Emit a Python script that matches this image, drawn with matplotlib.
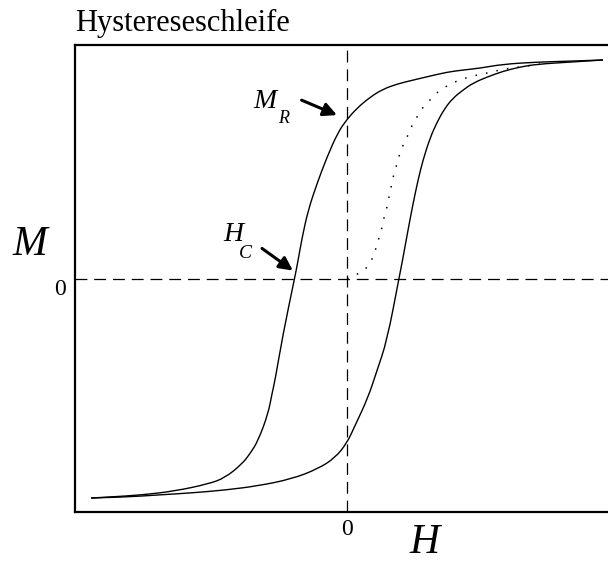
import matplotlib

matplotlib.use("Agg")

import matplotlib.pyplot as plt
import matplotlib.transforms as mtransforms
from matplotlib.path import Path
from matplotlib.patches import PathPatch


# descending branch, from positive saturation down to negative saturation
h_down = [0.941, 0.820, 0.699, 0.574, 0.489, 0.426, 0.368, 0.305, 0.243, 0.184,
          0.132, 0.085, 0.037, 0.000, -0.033, -0.074, -0.110, -0.143, -0.165,
          -0.182, -0.193, -0.235, -0.265, -0.276, -0.290, -0.327, -0.357, -0.386,
          -0.449, -0.511, -0.632, -0.754, -0.879, -0.941]
m_down = [0.936, 0.931, 0.927, 0.918, 0.901, 0.893, 0.884, 0.867, 0.850, 0.833,
          0.811, 0.777, 0.730, 0.682, 0.627, 0.519, 0.408, 0.292, 0.176,
          0.064, 0.000, -0.236, -0.438, -0.494, -0.579, -0.695, -0.751, -0.794,
          -0.854, -0.880, -0.910, -0.927, -0.936, -0.940]

# ascending branch, from negative saturation back up
h_up = [-0.941, -0.816, -0.695, -0.570, -0.449, -0.327, -0.202, -0.107, -0.044,
        0.000, 0.029, 0.077, 0.110, 0.147, 0.191, 0.206, 0.224, 0.243, 0.261, 0.279,
        0.305, 0.331, 0.360, 0.390, 0.426, 0.463, 0.515, 0.574, 0.636, 0.699,
        0.820, 0.941]
m_up = [-0.940, -0.936, -0.927, -0.918, -0.906, -0.888, -0.858, -0.815, -0.768,
        -0.704, -0.631, -0.511, -0.395, -0.266, 0.000, 0.090, 0.206, 0.322, 0.421,
        0.506, 0.601, 0.670, 0.730, 0.773, 0.807, 0.837, 0.863, 0.888, 0.906,
        0.918, 0.927, 0.936]

# virgin curve starting at the demagnetised state
h_new = [0.000, 0.048, 0.074, 0.096, 0.107, 0.118, 0.129, 0.136, 0.147, 0.154,
         0.162, 0.169, 0.180, 0.191, 0.202, 0.221, 0.239, 0.257, 0.276, 0.298,
         0.324, 0.353, 0.386, 0.423, 0.460, 0.515, 0.574, 0.636, 0.710]
m_new = [0.000, 0.021, 0.047, 0.090, 0.133, 0.176, 0.219, 0.262, 0.305, 0.348,
         0.391, 0.433, 0.476, 0.524, 0.562, 0.605, 0.657, 0.691, 0.730, 0.755,
         0.790, 0.815, 0.837, 0.854, 0.867, 0.880, 0.897, 0.906, 0.918]

M_R = 0.682   # remanence: descending branch at H = 0
H_C = -0.193  # coercive field: descending branch at M = 0

SERIF = ["Liberation Serif", "DejaVu Serif"]


def smooth_curve(ax, xs, ys, **kw):
    """Quadratic B-spline through the midpoints, using the samples as control points."""
    pts = list(zip(xs, ys))
    verts = [pts[0]]
    codes = [Path.MOVETO]
    for i in range(1, len(pts) - 1):
        mid = ((pts[i][0] + pts[i + 1][0]) / 2, (pts[i][1] + pts[i + 1][1]) / 2)
        verts += [pts[i], mid]
        codes += [Path.CURVE3, Path.CURVE3]
    verts.append(pts[-1])
    codes.append(Path.LINETO)
    patch = PathPatch(Path(verts, codes), facecolor="none", edgecolor="black",
                      capstyle="butt", **kw)
    ax.add_patch(patch)


fig = plt.figure(figsize=(6.08, 5.61), dpi=100, facecolor="white")
ax = fig.add_axes([0.1234, 0.0873, 0.8947, 0.8324])
ax.set_xlim(-1, 1)
ax.set_ylim(-1, 1)
for side in ("left", "bottom", "top", "right"):
    ax.spines[side].set_linewidth(1.6)
ax.set_xticks([])
ax.set_yticks([])

ax.axhline(0, color="black", lw=0.9, linestyle=(0, (9.5, 5.5)))
ax.axvline(0, color="black", lw=0.9, linestyle=(0, (9.5, 5.5)))

smooth_curve(ax, h_down, m_down, lw=1.0)
smooth_curve(ax, h_up, m_up, lw=1.0)
smooth_curve(ax, h_new, m_new, lw=1.1, linestyle=(0, (1, 6)))

# zero labels on both axes
xzero = mtransforms.blended_transform_factory(ax.transData, ax.transAxes)
yzero = mtransforms.blended_transform_factory(ax.transAxes, ax.transData)
ax.annotate("0", xy=(0, 0), xycoords=xzero, xytext=(0, -5), textcoords="offset points",
            ha="center", va="top", fontsize=17, family=SERIF, annotation_clip=False)
ax.annotate("0", xy=(0, 0), xycoords=yzero, xytext=(-6.5, 0), textcoords="offset points",
            ha="right", va="top", fontsize=17, family=SERIF, annotation_clip=False)

# M_R and H_C markers
arrow = dict(arrowstyle="-|>", lw=2.2, mutation_scale=20, color="black",
             shrinkA=0, shrinkB=0)
ax.annotate("", xy=(-0.037, M_R + 0.018), xytext=(-0.167, 0.764), arrowprops=arrow)
ax.annotate("", xy=(H_C - 0.006, 0.034), xytext=(-0.3125, 0.129), arrowprops=arrow)

ax.text(-0.346, 0.730, "M", fontsize=20, style="italic", family=SERIF,
        ha="left", va="baseline")
ax.text(-0.254, 0.665, "R", fontsize=13, style="italic", family=SERIF,
        ha="left", va="baseline")
ax.text(-0.456, 0.159, "H", fontsize=20, style="italic", family=SERIF,
        ha="left", va="baseline")
ax.text(-0.397, 0.090, "C", fontsize=14, style="italic", family=SERIF,
        ha="left", va="baseline")

fig.text(0.021, 0.545, "M", fontsize=30, style="italic", family=SERIF,
         ha="left", va="baseline")
fig.text(0.674, 0.015, "H", fontsize=30, style="italic", family=SERIF,
         ha="left", va="baseline")
fig.text(0.124, 0.945, "Hystereseschleife", fontsize=22, family=SERIF,
         ha="left", va="baseline")

fig.savefig("out.png", dpi=100, facecolor="white")
